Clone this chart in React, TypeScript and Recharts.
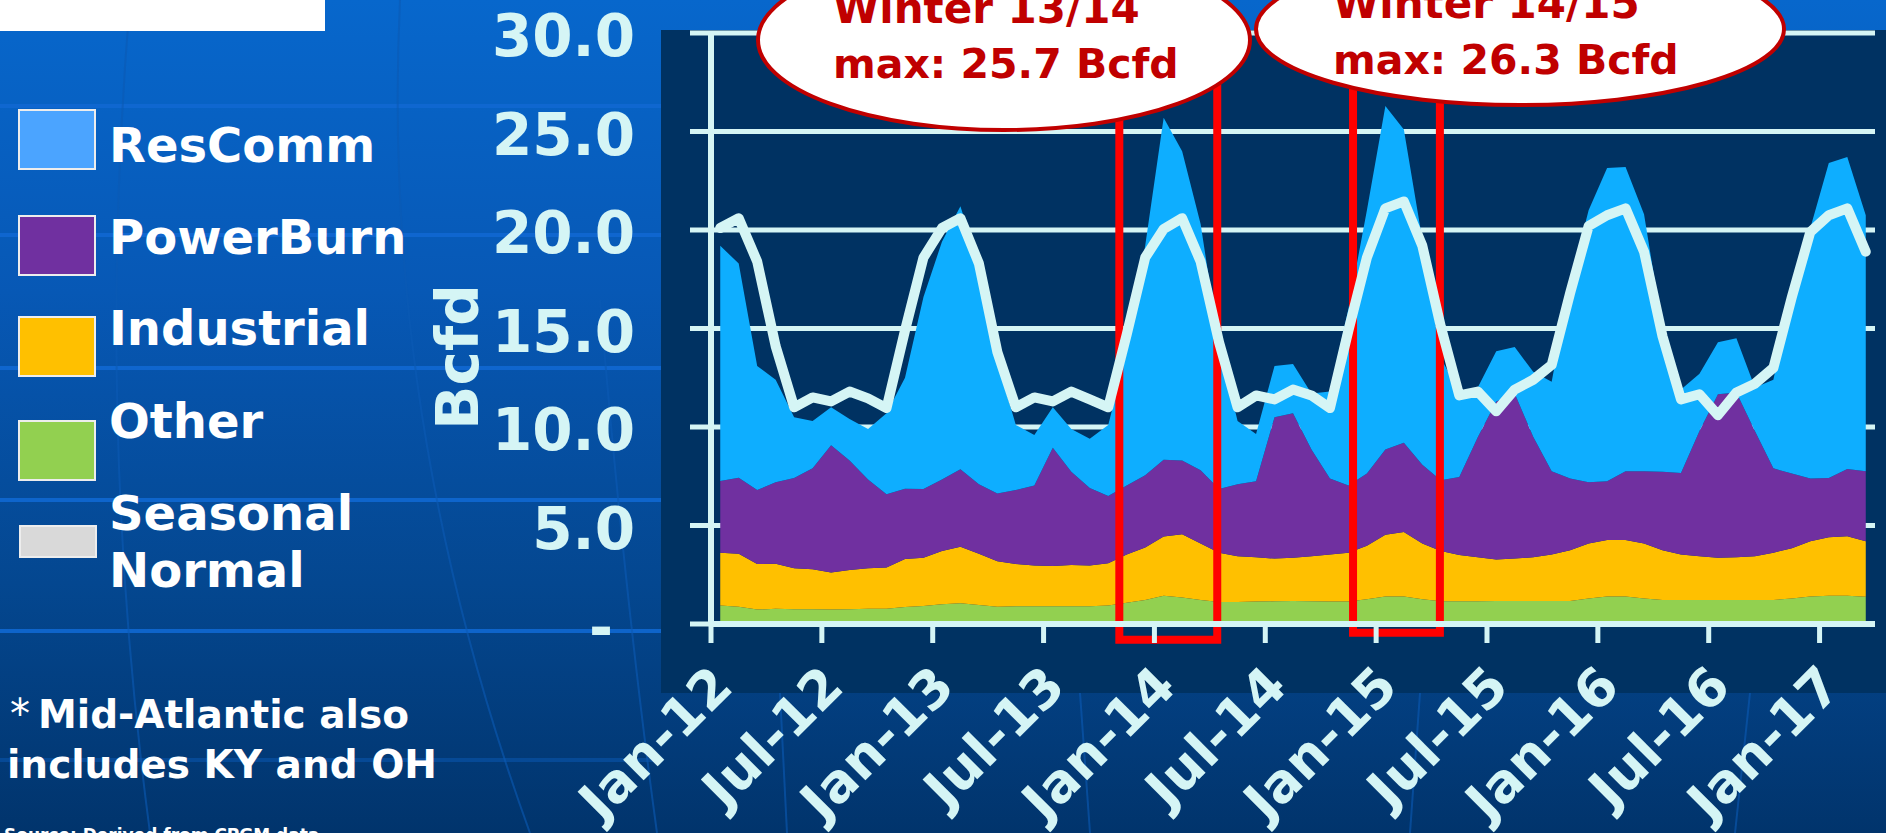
import React from "react";
import { ComposedChart, Area, Line, XAxis, YAxis, CartesianGrid, ReferenceArea } from "recharts";

// monthly categories, Jan-12 .. Mar-17
const months = [
  "Jan-12", "Feb-12", "Mar-12", "Apr-12", "May-12", "Jun-12", "Jul-12", "Aug-12", "Sep-12", "Oct-12", "Nov-12", "Dec-12",
  "Jan-13", "Feb-13", "Mar-13", "Apr-13", "May-13", "Jun-13", "Jul-13", "Aug-13", "Sep-13", "Oct-13", "Nov-13", "Dec-13",
  "Jan-14", "Feb-14", "Mar-14", "Apr-14", "May-14", "Jun-14", "Jul-14", "Aug-14", "Sep-14", "Oct-14", "Nov-14", "Dec-14",
  "Jan-15", "Feb-15", "Mar-15", "Apr-15", "May-15", "Jun-15", "Jul-15", "Aug-15", "Sep-15", "Oct-15", "Nov-15", "Dec-15",
  "Jan-16", "Feb-16", "Mar-16", "Apr-16", "May-16", "Jun-16", "Jul-16", "Aug-16", "Sep-16", "Oct-16", "Nov-16", "Dec-16",
  "Jan-17", "Feb-17", "Mar-17",
];

const other = [
  0.94, 0.87, 0.73, 0.77, 0.75, 0.75, 0.73, 0.75, 0.77, 0.77, 0.86, 0.91,
  1.0, 1.05, 0.96, 0.87, 0.9, 0.9, 0.9, 0.9, 0.9, 0.94, 1.08, 1.22,
  1.43, 1.35, 1.22, 1.12, 1.12, 1.14, 1.15, 1.17, 1.16, 1.14, 1.14, 1.26,
  1.4, 1.4, 1.26, 1.15, 1.15, 1.15, 1.17, 1.17, 1.17, 1.17, 1.17, 1.3,
  1.4, 1.4, 1.3, 1.22, 1.22, 1.22, 1.22, 1.22, 1.22, 1.22, 1.3, 1.4,
  1.43, 1.43, 1.38,
];

const industrial = [
  2.68, 2.7, 2.31, 2.29, 2.08, 2.03, 1.89, 1.99, 2.06, 2.1, 2.44, 2.45,
  2.7, 2.87, 2.61, 2.31, 2.14, 2.07, 2.05, 2.1, 2.07, 2.15, 2.45, 2.66,
  3.01, 3.2, 2.87, 2.5, 2.32, 2.25, 2.17, 2.19, 2.28, 2.39, 2.48, 2.71,
  3.13, 3.27, 2.83, 2.56, 2.35, 2.24, 2.1, 2.15, 2.22, 2.36, 2.57, 2.79,
  2.87, 2.87, 2.79, 2.52, 2.31, 2.22, 2.14, 2.17, 2.22, 2.4, 2.55, 2.8,
  2.97, 3.03, 2.82,
];

const powerBurn = [
  3.64, 3.86, 3.76, 4.14, 4.58, 5.12, 6.45, 5.56, 4.51, 3.72, 3.57, 3.49,
  3.63, 3.93, 3.53, 3.45, 3.76, 4.06, 6.0, 4.73, 3.93, 3.41, 3.5, 3.67,
  3.9, 3.75, 3.71, 3.23, 3.66, 3.86, 7.18, 7.34, 5.42, 3.85, 3.41, 3.67,
  4.33, 4.53, 3.99, 3.59, 3.96, 6.09, 8.03, 8.38, 6.11, 4.23, 3.64, 3.11,
  2.97, 3.49, 3.67, 3.99, 4.14, 6.36, 8.3, 8.36, 6.36, 4.28, 3.79, 3.18,
  3.01, 3.41, 3.56,
];

const resComm = [
  11.94, 10.87, 6.3, 5.2, 3.09, 2.4, 1.93, 2.1, 2.56, 4.11, 5.63, 9.75,
  12.07, 13.35, 11.1, 6.67, 3.3, 2.57, 2.05, 2.17, 2.5, 3.6, 6.77, 11.65,
  17.36, 15.7, 12.5, 7.35, 3.2, 2.4, 2.6, 2.5, 2.84, 4.42, 8.97, 13.36,
  17.44, 15.9, 11.42, 6.2, 4.29, 2.52, 2.55, 2.36, 3.3, 4.54, 9.92, 13.8,
  15.91, 15.44, 13.04, 7.27, 4.23, 2.9, 2.64, 2.75, 2.2, 4.5, 9.16, 12.72,
  15.99, 15.83, 12.99,
];

const seasonalNormal = [
  20.1, 20.6, 18.4, 14.1, 11.0, 11.5, 11.3, 11.8, 11.45, 10.96, 14.9, 18.6,
  20.1, 20.6, 18.3, 13.8, 11.0, 11.5, 11.3, 11.8, 11.4, 11.0, 14.7, 18.6,
  20.05, 20.6, 18.4, 14.3, 11.0, 11.6, 11.4, 11.9, 11.6, 10.96, 14.9, 18.6,
  21.1, 21.45, 19.2, 15.1, 11.6, 11.8, 10.8, 11.9, 12.4, 13.15, 16.8, 20.2,
  20.75, 21.1, 18.9, 14.6, 11.4, 11.66, 10.6, 11.75, 12.2, 13.0, 16.6, 19.9,
  20.75, 21.1, 18.9,
];

const xTickLabels = ["Jan-12", "Jul-12", "Jan-13", "Jul-13", "Jan-14", "Jul-14", "Jan-15", "Jul-15", "Jan-16", "Jul-16", "Jan-17"];
const yTicks = [0, 5, 10, 15, 20, 25, 30];

const legendItems = [
  { name: "ResComm", color: "#4BA4FF" },
  { name: "PowerBurn", color: "#7030A0" },
  { name: "Industrial", color: "#FFC000" },
  { name: "Other", color: "#92D050" },
];

const rows = months.map((m, i) => ({
  idx: i,
  month: m,
  Other: other[i],
  Industrial: industrial[i],
  PowerBurn: powerBurn[i],
  ResComm: resComm[i],
  SeasonalNormal: seasonalNormal[i],
}));

// ticks sit on the boundary before each labelled month
const xTicks = xTickLabels.map((l) => months.indexOf(l) - 0.5);

const CYAN = "#D5F5F5";
const FONT = "'DejaVu Sans', sans-serif";

const YTick = (props: any) => {
  const { x, y, payload } = props;
  const v = payload.value as number;
  if (v === 0) {
    return (
      <text x={x - 22} y={y + 24} textAnchor="end" fill={CYAN} fontSize={58} fontWeight="bold" fontFamily={FONT}>
        -
      </text>
    );
  }
  return (
    <text x={x} y={y + 23} textAnchor="end" fill={CYAN} fontSize={58} fontWeight="bold" fontFamily={FONT}>
      {v.toFixed(1)}
    </text>
  );
};

const XTick = (props: any) => {
  const { x, y, payload } = props;
  const label = months[Math.round(payload.value + 0.5)];
  const ax = x + 24;
  const ay = y + 44;
  return (
    <text
      x={ax}
      y={ay}
      transform={`rotate(-45, ${ax}, ${ay})`}
      textAnchor="end"
      fill={CYAN}
      fontSize={53}
      fontWeight="bold"
      fontFamily={FONT}
    >
      {label}
    </text>
  );
};

export default function App() {
  return (
    <div
      style={{
        position: "relative",
        width: 1886,
        height: 833,
        overflow: "hidden",
        background: "linear-gradient(180deg, #0767CC 0%, #0758B5 35%, #044790 70%, #01346C 100%)",
      }}
    >
      <style>{"body{margin:0;overflow:hidden}"}</style>

      {/* background decoration, legend and notes */}
      <svg width={1886} height={833} style={{ position: "absolute", left: 0, top: 0 }}>
        {[106, 235, 368, 500, 631, 760].map((y) => (
          <line key={y} x1={0} x2={661} y1={y} y2={y} stroke="#1068D2" strokeWidth={4} opacity={y === 760 ? 0.35 : 0.9} />
        ))}
        <path d="M 130 0 Q 95 420 150 833" stroke="#0B5AB4" strokeWidth={2} fill="none" opacity={0.6} />
        <path d="M 400 0 Q 380 420 530 833" stroke="#0B5AB4" strokeWidth={2} fill="none" opacity={0.6} />
        <path d="M 600 300 Q 625 600 657 833" stroke="#0B5AB4" strokeWidth={2} fill="none" opacity={0.6} />
        <path d="M 780 693 L 787 833" stroke="#0B5AB4" strokeWidth={2} fill="none" opacity={0.6} />
        <path d="M 1080 693 L 1090 833" stroke="#0B5AB4" strokeWidth={2} fill="none" opacity={0.6} />
        <path d="M 1420 693 L 1410 833" stroke="#0B5AB4" strokeWidth={2} fill="none" opacity={0.6} />
        <path d="M 1750 693 L 1735 833" stroke="#0B5AB4" strokeWidth={2} fill="none" opacity={0.6} />

        <rect x={0} y={-10} width={325} height={41} fill="#FFFFFF" />
        <rect x={661} y={30} width={1240} height={663} fill="#003262" />

        {legendItems.map((it, i) => {
          const tops = [110, 216, 317, 421];
          const baselines = [162, 254, 345, 438];
          return (
            <g key={it.name}>
              <rect x={19} y={tops[i]} width={76} height={59} fill={it.color} stroke="#EDEDED" strokeWidth={2} />
              <text x={109} y={baselines[i]} fill="#FFFFFF" fontSize={48} fontWeight="bold" fontFamily={FONT}>
                {it.name}
              </text>
            </g>
          );
        })}
        <rect x={20} y={526} width={76} height={31} fill="#D9D9D9" stroke="#EDEDED" strokeWidth={2} />
        <text x={109} y={530} fill="#FFFFFF" fontSize={48} fontWeight="bold" fontFamily={FONT}>
          Seasonal
        </text>
        <text x={109} y={587} fill="#FFFFFF" fontSize={48} fontWeight="bold" fontFamily={FONT}>
          Normal
        </text>

        <text x={478} y={357} transform="rotate(-90, 478, 357)" textAnchor="middle" fill={CYAN} fontSize={58} fontWeight="bold" fontFamily={FONT}>
          Bcfd
        </text>

        <text x={10} y={728} fill="#FFFFFF" fontSize={40} fontFamily={FONT}>
          *
        </text>
        <text x={38} y={728} fill="#FFFFFF" fontSize={39} fontWeight="bold" fontFamily={FONT}>
          Mid-Atlantic also
        </text>
        <text x={7} y={778} fill="#FFFFFF" fontSize={39} fontWeight="bold" fontFamily={FONT}>
          includes KY and OH
        </text>
        <text x={4} y={841} fill="#FFFFFF" fontSize={17} fontWeight="bold" fontFamily={FONT}>
          Source: Derived from CPGM data
        </text>
      </svg>

      <div style={{ position: "absolute", left: 0, top: 0 }}>
        <ComposedChart width={1886} height={833} data={rows} margin={{ top: 33, right: 11, left: 511, bottom: 59 }}>
          <CartesianGrid horizontal vertical={false} stroke={CYAN} strokeWidth={5} />
          <XAxis
            type="number"
            dataKey="idx"
            domain={[-0.5, 62.5]}
            ticks={xTicks}
            interval={0}
            height={150}
            tickSize={19}
            tickMargin={2}
            tickLine={{ stroke: CYAN, strokeWidth: 5 }}
            axisLine={{ stroke: CYAN, strokeWidth: 6 }}
            tick={<XTick />}
          />
          <YAxis
            type="number"
            domain={[0, 30]}
            ticks={yTicks}
            interval={0}
            width={200}
            tickSize={21}
            tickMargin={55}
            tickLine={{ stroke: CYAN, strokeWidth: 5 }}
            axisLine={{ stroke: CYAN, strokeWidth: 6 }}
            tick={<YTick />}
          />
          <Area type="linear" dataKey="Other" stackId="s" fill="#92D050" stroke="none" fillOpacity={1} isAnimationActive={false} />
          <Area type="linear" dataKey="Industrial" stackId="s" fill="#FFC000" stroke="none" fillOpacity={1} isAnimationActive={false} />
          <Area type="linear" dataKey="PowerBurn" stackId="s" fill="#7030A0" stroke="none" fillOpacity={1} isAnimationActive={false} />
          <Area type="linear" dataKey="ResComm" stackId="s" fill="#0EAEFF" stroke="none" fillOpacity={1} isAnimationActive={false} />
          <Line
            type="linear"
            dataKey="SeasonalNormal"
            stroke={CYAN}
            strokeWidth={10}
            strokeLinejoin="round"
            strokeLinecap="round"
            dot={false}
            activeDot={false}
            isAnimationActive={false}
          />
          <ReferenceArea x1={21.6} x2={26.9} y1={-0.8} y2={28} fill="none" stroke="#FF0000" strokeWidth={8} ifOverflow="visible" />
          <ReferenceArea x1={34.25} x2={38.95} y1={-0.45} y2={28.5} fill="none" stroke="#FF0000" strokeWidth={8} ifOverflow="visible" />
        </ComposedChart>
      </div>

      {/* callouts */}
      <svg width={1886} height={833} style={{ position: "absolute", left: 0, top: 0, pointerEvents: "none" }}>
        <ellipse cx={1004} cy={40} rx={246} ry={90} fill="#FFFFFF" stroke="#C00000" strokeWidth={4} />
        <text x={833} y={23} fill="#C00000" fontSize={42} fontWeight="bold" fontFamily={FONT}>
          Winter 13/14
        </text>
        <text x={833} y={78} fill="#C00000" fontSize={41} fontWeight="bold" fontFamily={FONT}>
          max: 25.7 Bcfd
        </text>
        <ellipse cx={1520} cy={29} rx={264} ry={76} fill="#FFFFFF" stroke="#C00000" strokeWidth={4} />
        <text x={1333} y={18} fill="#C00000" fontSize={42} fontWeight="bold" fontFamily={FONT}>
          Winter 14/15
        </text>
        <text x={1333} y={74} fill="#C00000" fontSize={41} fontWeight="bold" fontFamily={FONT}>
          max: 26.3 Bcfd
        </text>
      </svg>
    </div>
  );
}
